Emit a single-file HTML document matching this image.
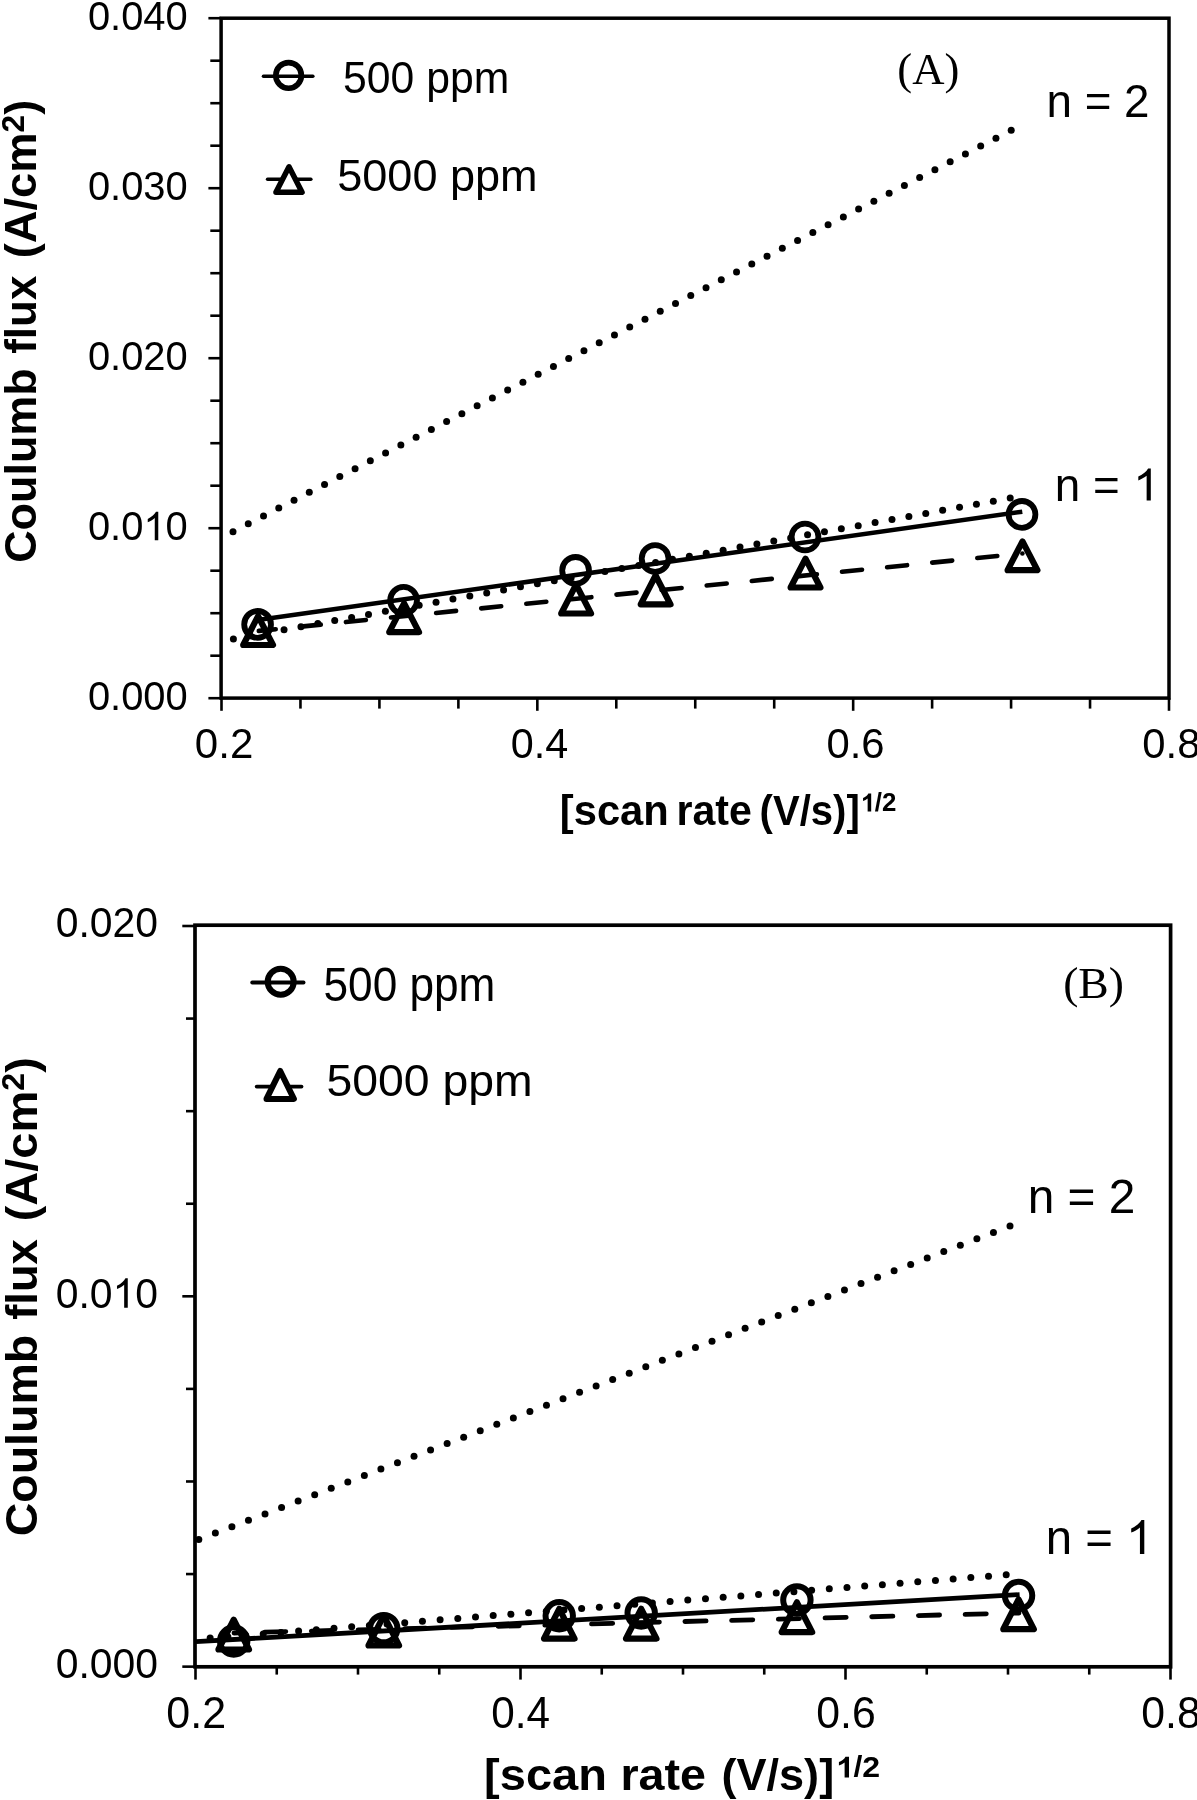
<!DOCTYPE html>
<html><head><meta charset="utf-8"><style>
html,body{margin:0;padding:0;background:#fff;}
svg{display:block;filter:grayscale(1);}
</style></head><body>
<svg width="1197" height="1800" viewBox="0 0 1197 1800">
<rect width="1197" height="1800" fill="#fff"/>
<line x1="208.40" y1="18.20" x2="221.10" y2="18.20" stroke="#000" stroke-width="2.6" stroke-linecap="butt" /><line x1="210.30" y1="60.70" x2="221.10" y2="60.70" stroke="#000" stroke-width="2.6" stroke-linecap="butt" /><line x1="210.30" y1="103.20" x2="221.10" y2="103.20" stroke="#000" stroke-width="2.6" stroke-linecap="butt" /><line x1="210.30" y1="145.70" x2="221.10" y2="145.70" stroke="#000" stroke-width="2.6" stroke-linecap="butt" /><line x1="208.40" y1="188.20" x2="221.10" y2="188.20" stroke="#000" stroke-width="2.6" stroke-linecap="butt" /><line x1="210.30" y1="230.70" x2="221.10" y2="230.70" stroke="#000" stroke-width="2.6" stroke-linecap="butt" /><line x1="210.30" y1="273.20" x2="221.10" y2="273.20" stroke="#000" stroke-width="2.6" stroke-linecap="butt" /><line x1="210.30" y1="315.70" x2="221.10" y2="315.70" stroke="#000" stroke-width="2.6" stroke-linecap="butt" /><line x1="208.40" y1="358.20" x2="221.10" y2="358.20" stroke="#000" stroke-width="2.6" stroke-linecap="butt" /><line x1="210.30" y1="400.70" x2="221.10" y2="400.70" stroke="#000" stroke-width="2.6" stroke-linecap="butt" /><line x1="210.30" y1="443.20" x2="221.10" y2="443.20" stroke="#000" stroke-width="2.6" stroke-linecap="butt" /><line x1="210.30" y1="485.70" x2="221.10" y2="485.70" stroke="#000" stroke-width="2.6" stroke-linecap="butt" /><line x1="208.40" y1="528.20" x2="221.10" y2="528.20" stroke="#000" stroke-width="2.6" stroke-linecap="butt" /><line x1="210.30" y1="570.70" x2="221.10" y2="570.70" stroke="#000" stroke-width="2.6" stroke-linecap="butt" /><line x1="210.30" y1="613.20" x2="221.10" y2="613.20" stroke="#000" stroke-width="2.6" stroke-linecap="butt" /><line x1="210.30" y1="655.70" x2="221.10" y2="655.70" stroke="#000" stroke-width="2.6" stroke-linecap="butt" /><line x1="208.40" y1="698.20" x2="221.10" y2="698.20" stroke="#000" stroke-width="2.6" stroke-linecap="butt" /><line x1="221.50" y1="698.10" x2="221.50" y2="710.80" stroke="#000" stroke-width="2.6" stroke-linecap="butt" /><line x1="300.46" y1="698.10" x2="300.46" y2="708.60" stroke="#000" stroke-width="2.6" stroke-linecap="butt" /><line x1="379.42" y1="698.10" x2="379.42" y2="708.60" stroke="#000" stroke-width="2.6" stroke-linecap="butt" /><line x1="458.38" y1="698.10" x2="458.38" y2="708.60" stroke="#000" stroke-width="2.6" stroke-linecap="butt" /><line x1="537.33" y1="698.10" x2="537.33" y2="710.80" stroke="#000" stroke-width="2.6" stroke-linecap="butt" /><line x1="616.29" y1="698.10" x2="616.29" y2="708.60" stroke="#000" stroke-width="2.6" stroke-linecap="butt" /><line x1="695.25" y1="698.10" x2="695.25" y2="708.60" stroke="#000" stroke-width="2.6" stroke-linecap="butt" /><line x1="774.21" y1="698.10" x2="774.21" y2="708.60" stroke="#000" stroke-width="2.6" stroke-linecap="butt" /><line x1="853.17" y1="698.10" x2="853.17" y2="710.80" stroke="#000" stroke-width="2.6" stroke-linecap="butt" /><line x1="932.12" y1="698.10" x2="932.12" y2="708.60" stroke="#000" stroke-width="2.6" stroke-linecap="butt" /><line x1="1011.08" y1="698.10" x2="1011.08" y2="708.60" stroke="#000" stroke-width="2.6" stroke-linecap="butt" /><line x1="1090.04" y1="698.10" x2="1090.04" y2="708.60" stroke="#000" stroke-width="2.6" stroke-linecap="butt" /><line x1="1169.00" y1="698.10" x2="1169.00" y2="710.80" stroke="#000" stroke-width="2.6" stroke-linecap="butt" /><rect x="221.1" y="18.2" width="947.9" height="679.9" fill="none" stroke="#000" stroke-width="3.5"/><text transform="translate(87.90,30.19) scale(0.9672,1)" font-family='"Liberation Sans", sans-serif' font-weight="normal" font-size="41.27" >0.040</text><text transform="translate(87.90,200.19) scale(0.9672,1)" font-family='"Liberation Sans", sans-serif' font-weight="normal" font-size="41.27" >0.030</text><text transform="translate(87.90,370.19) scale(0.9672,1)" font-family='"Liberation Sans", sans-serif' font-weight="normal" font-size="41.27" >0.020</text><g transform="translate(87.90,540.19) scale(0.9672,1)" font-family='"Liberation Sans", sans-serif' font-weight="normal" font-size="41.27"><text x="0.00" y="0">0.0</text><path transform="translate(57.38,0) scale(0.02015,-0.01928)" d="M763 0H583V1147Q518 1085 412.5 1023T223 930V1104Q374 1175 487 1276T647 1472H763Z"/><text x="80.33" y="0">0</text></g><text transform="translate(87.90,710.19) scale(0.9672,1)" font-family='"Liberation Sans", sans-serif' font-weight="normal" font-size="41.27" >0.000</text><text transform="translate(194.82,757.97) scale(0.9793,1)" font-family='"Liberation Sans", sans-serif' font-weight="normal" font-size="42.97" >0.2</text><text transform="translate(510.68,757.97) scale(0.9626,1)" font-family='"Liberation Sans", sans-serif' font-weight="normal" font-size="42.97" >0.4</text><text transform="translate(826.49,757.97) scale(0.9736,1)" font-family='"Liberation Sans", sans-serif' font-weight="normal" font-size="42.97" >0.6</text><text transform="translate(1142.33,757.97) scale(0.9736,1)" font-family='"Liberation Sans", sans-serif' font-weight="normal" font-size="42.97" >0.8</text><text transform="translate(36.40,562.80) rotate(-90) scale(1.0208,1)" font-family='"Liberation Sans", sans-serif' font-weight="bold" font-size="44.0">Coulumb</text><text transform="translate(36.40,353.77) rotate(-90) scale(0.9986,1)" font-family='"Liberation Sans", sans-serif' font-weight="bold" font-size="44.0">flux</text><text transform="translate(36.40,258.26) rotate(-90) scale(1.0293,1)" font-family='"Liberation Sans", sans-serif' font-weight="bold" font-size="44.0">(A/cm<tspan font-size="30.8" dy="-12.4">2</tspan><tspan dy="12.4">)</tspan></text><text transform="translate(559.81,825.20) scale(0.9887,1)" font-family='"Liberation Sans", sans-serif' font-weight="bold" font-size="42.2">[scan</text><text transform="translate(676.53,825.20) scale(0.9738,1)" font-family='"Liberation Sans", sans-serif' font-weight="bold" font-size="42.2">rate</text><text transform="translate(759.60,825.20) scale(0.9498,1)" font-family='"Liberation Sans", sans-serif' font-weight="bold" font-size="42.2">(V/s)]</text><g transform="translate(860.38,811.38) scale(0.9881,1)" font-family='"Liberation Sans", sans-serif' font-weight="bold" font-size="26.17"><path transform="translate(0.00,0) scale(0.01278,-0.01222)" d="M856 0H575V1059Q421 915 212 846V1101Q322 1137 451 1237.5T628 1472H856Z"/><text x="14.56" y="0">/2</text></g><line x1="263.45" y1="76.30" x2="312.85" y2="76.30" stroke="#000" stroke-width="3.5" stroke-linecap="round" /><circle cx="288.60" cy="75.40" r="12.80" fill="none" stroke="#000" stroke-width="5.6"/><text transform="translate(343.09,92.59) scale(0.9517,1)" font-family='"Liberation Sans", sans-serif' font-weight="normal" font-size="44.86" >500 ppm</text><line x1="267.55" y1="179.30" x2="310.85" y2="179.30" stroke="#000" stroke-width="3.5" stroke-linecap="round" /><path d="M289.00,166.75 L302.05,192.35 L275.95,192.35 Z" fill="#fff" stroke="#000" stroke-width="5.5" stroke-linejoin="round"/><text transform="translate(337.20,190.73) scale(1.0201,1)" font-family='"Liberation Sans", sans-serif' font-weight="normal" font-size="44.20" >5000 ppm</text><text transform="translate(897.29,83.67) scale(0.9965,1)" font-family='"Liberation Serif", serif' font-weight="normal" font-size="44.85" >(A)</text><text transform="translate(1046.51,117.00) scale(0.9976,1)" font-family='"Liberation Sans", sans-serif' font-weight="normal" font-size="45.88" >n = 2</text><text transform="translate(1054.81,500.60) scale(0.9855,1)" font-family='"Liberation Sans", sans-serif' font-weight="normal" font-size="46.51" >n =</text><path transform="translate(1133.14,500.60) scale(0.02315,-0.02174)" d="M763 0H583V1147Q518 1085 412.5 1023T223 930V1104Q374 1175 487 1276T647 1472H763Z"/><circle cx="233.00" cy="531.70" r="3.5"/><circle cx="248.26" cy="523.83" r="3.5"/><circle cx="263.52" cy="515.96" r="3.5"/><circle cx="278.78" cy="508.09" r="3.5"/><circle cx="294.04" cy="500.22" r="3.5"/><circle cx="309.29" cy="492.35" r="3.5"/><circle cx="324.55" cy="484.48" r="3.5"/><circle cx="339.81" cy="476.61" r="3.5"/><circle cx="355.07" cy="468.74" r="3.5"/><circle cx="370.33" cy="460.86" r="3.5"/><circle cx="385.59" cy="452.99" r="3.5"/><circle cx="400.85" cy="445.12" r="3.5"/><circle cx="416.11" cy="437.25" r="3.5"/><circle cx="431.36" cy="429.38" r="3.5"/><circle cx="446.62" cy="421.51" r="3.5"/><circle cx="461.88" cy="413.64" r="3.5"/><circle cx="477.14" cy="405.77" r="3.5"/><circle cx="492.40" cy="397.90" r="3.5"/><circle cx="507.66" cy="390.03" r="3.5"/><circle cx="522.92" cy="382.16" r="3.5"/><circle cx="538.18" cy="374.29" r="3.5"/><circle cx="553.44" cy="366.42" r="3.5"/><circle cx="568.69" cy="358.55" r="3.5"/><circle cx="583.95" cy="350.68" r="3.5"/><circle cx="599.21" cy="342.81" r="3.5"/><circle cx="614.47" cy="334.94" r="3.5"/><circle cx="629.73" cy="327.06" r="3.5"/><circle cx="644.99" cy="319.19" r="3.5"/><circle cx="660.25" cy="311.32" r="3.5"/><circle cx="675.51" cy="303.45" r="3.5"/><circle cx="690.76" cy="295.58" r="3.5"/><circle cx="706.02" cy="287.71" r="3.5"/><circle cx="721.28" cy="279.84" r="3.5"/><circle cx="736.54" cy="271.97" r="3.5"/><circle cx="751.80" cy="264.10" r="3.5"/><circle cx="767.06" cy="256.23" r="3.5"/><circle cx="782.32" cy="248.36" r="3.5"/><circle cx="797.58" cy="240.49" r="3.5"/><circle cx="812.84" cy="232.62" r="3.5"/><circle cx="828.09" cy="224.75" r="3.5"/><circle cx="843.35" cy="216.88" r="3.5"/><circle cx="858.61" cy="209.01" r="3.5"/><circle cx="873.87" cy="201.14" r="3.5"/><circle cx="889.13" cy="193.26" r="3.5"/><circle cx="904.39" cy="185.39" r="3.5"/><circle cx="919.65" cy="177.52" r="3.5"/><circle cx="934.91" cy="169.65" r="3.5"/><circle cx="950.16" cy="161.78" r="3.5"/><circle cx="965.42" cy="153.91" r="3.5"/><circle cx="980.68" cy="146.04" r="3.5"/><circle cx="995.94" cy="138.17" r="3.5"/><circle cx="1011.20" cy="130.30" r="3.5"/><circle cx="233.40" cy="638.90" r="3.5"/><circle cx="250.29" cy="635.84" r="3.5"/><circle cx="267.17" cy="632.78" r="3.5"/><circle cx="284.06" cy="629.72" r="3.5"/><circle cx="300.95" cy="626.66" r="3.5"/><circle cx="317.83" cy="623.60" r="3.5"/><circle cx="334.72" cy="620.53" r="3.5"/><circle cx="351.61" cy="617.47" r="3.5"/><circle cx="368.50" cy="614.41" r="3.5"/><circle cx="385.38" cy="611.35" r="3.5"/><circle cx="402.27" cy="608.29" r="3.5"/><circle cx="419.16" cy="605.23" r="3.5"/><circle cx="436.04" cy="602.17" r="3.5"/><circle cx="452.93" cy="599.11" r="3.5"/><circle cx="469.82" cy="596.05" r="3.5"/><circle cx="486.70" cy="592.99" r="3.5"/><circle cx="503.59" cy="589.93" r="3.5"/><circle cx="520.48" cy="586.87" r="3.5"/><circle cx="537.37" cy="583.80" r="3.5"/><circle cx="554.25" cy="580.74" r="3.5"/><circle cx="571.14" cy="577.68" r="3.5"/><circle cx="588.03" cy="574.62" r="3.5"/><circle cx="604.91" cy="571.56" r="3.5"/><circle cx="621.80" cy="568.50" r="3.5"/><circle cx="638.69" cy="565.44" r="3.5"/><circle cx="655.57" cy="562.38" r="3.5"/><circle cx="672.46" cy="559.32" r="3.5"/><circle cx="689.35" cy="556.26" r="3.5"/><circle cx="706.23" cy="553.20" r="3.5"/><circle cx="723.12" cy="550.13" r="3.5"/><circle cx="740.01" cy="547.07" r="3.5"/><circle cx="756.90" cy="544.01" r="3.5"/><circle cx="773.78" cy="540.95" r="3.5"/><circle cx="790.67" cy="537.89" r="3.5"/><circle cx="807.56" cy="534.83" r="3.5"/><circle cx="824.44" cy="531.77" r="3.5"/><circle cx="841.33" cy="528.71" r="3.5"/><circle cx="858.22" cy="525.65" r="3.5"/><circle cx="875.10" cy="522.59" r="3.5"/><circle cx="891.99" cy="519.53" r="3.5"/><circle cx="908.88" cy="516.47" r="3.5"/><circle cx="925.77" cy="513.40" r="3.5"/><circle cx="942.65" cy="510.34" r="3.5"/><circle cx="959.54" cy="507.28" r="3.5"/><circle cx="976.43" cy="504.22" r="3.5"/><circle cx="993.31" cy="501.16" r="3.5"/><circle cx="1010.20" cy="498.10" r="3.5"/><line x1="257.60" y1="620.10" x2="1022.30" y2="511.70" stroke="#000" stroke-width="4.5" stroke-linecap="butt" /><line x1="258.80" y1="630.90" x2="275.71" y2="629.19" stroke="#000" stroke-width="4.6" stroke-linecap="round" /><line x1="300.79" y1="626.64" x2="320.81" y2="624.61" stroke="#000" stroke-width="4.6" stroke-linecap="round" /><line x1="345.89" y1="622.07" x2="365.91" y2="620.04" stroke="#000" stroke-width="4.6" stroke-linecap="round" /><line x1="390.99" y1="617.50" x2="411.01" y2="615.47" stroke="#000" stroke-width="4.6" stroke-linecap="round" /><line x1="436.09" y1="612.93" x2="456.11" y2="610.89" stroke="#000" stroke-width="4.6" stroke-linecap="round" /><line x1="481.19" y1="608.35" x2="501.21" y2="606.32" stroke="#000" stroke-width="4.6" stroke-linecap="round" /><line x1="526.29" y1="603.78" x2="546.31" y2="601.75" stroke="#000" stroke-width="4.6" stroke-linecap="round" /><line x1="571.39" y1="599.21" x2="591.41" y2="597.18" stroke="#000" stroke-width="4.6" stroke-linecap="round" /><line x1="616.49" y1="594.63" x2="636.51" y2="592.60" stroke="#000" stroke-width="4.6" stroke-linecap="round" /><line x1="661.59" y1="590.06" x2="681.61" y2="588.03" stroke="#000" stroke-width="4.6" stroke-linecap="round" /><line x1="706.69" y1="585.49" x2="726.71" y2="583.46" stroke="#000" stroke-width="4.6" stroke-linecap="round" /><line x1="751.79" y1="580.92" x2="771.81" y2="578.89" stroke="#000" stroke-width="4.6" stroke-linecap="round" /><line x1="796.89" y1="576.34" x2="816.91" y2="574.31" stroke="#000" stroke-width="4.6" stroke-linecap="round" /><line x1="841.99" y1="571.77" x2="862.01" y2="569.74" stroke="#000" stroke-width="4.6" stroke-linecap="round" /><line x1="887.09" y1="567.20" x2="907.11" y2="565.17" stroke="#000" stroke-width="4.6" stroke-linecap="round" /><line x1="932.19" y1="562.63" x2="952.21" y2="560.60" stroke="#000" stroke-width="4.6" stroke-linecap="round" /><line x1="977.29" y1="558.05" x2="997.31" y2="556.02" stroke="#000" stroke-width="4.6" stroke-linecap="round" /><line x1="1022.39" y1="553.48" x2="1022.40" y2="553.48" stroke="#000" stroke-width="4.6" stroke-linecap="round" /><circle cx="257.60" cy="624.40" r="13.40" fill="none" stroke="#000" stroke-width="5.8"/><path d="M258.10,616.20 L273.00,645.00 L243.20,645.00 Z" fill="none" stroke="#000" stroke-width="6.2" stroke-linejoin="round"/><circle cx="403.60" cy="600.30" r="13.40" fill="none" stroke="#000" stroke-width="5.8"/><path d="M404.10,603.30 L419.00,632.10 L389.20,632.10 Z" fill="none" stroke="#000" stroke-width="6.2" stroke-linejoin="round"/><circle cx="575.60" cy="570.40" r="13.40" fill="none" stroke="#000" stroke-width="5.8"/><path d="M576.10,584.70 L591.00,613.50 L561.20,613.50 Z" fill="none" stroke="#000" stroke-width="6.2" stroke-linejoin="round"/><circle cx="655.10" cy="558.50" r="13.40" fill="none" stroke="#000" stroke-width="5.8"/><path d="M655.60,575.50 L670.50,604.30 L640.70,604.30 Z" fill="none" stroke="#000" stroke-width="6.2" stroke-linejoin="round"/><circle cx="805.00" cy="537.00" r="13.40" fill="none" stroke="#000" stroke-width="5.8"/><path d="M805.50,558.70 L820.40,587.50 L790.60,587.50 Z" fill="none" stroke="#000" stroke-width="6.2" stroke-linejoin="round"/><circle cx="1022.00" cy="514.40" r="13.40" fill="none" stroke="#000" stroke-width="5.8"/><path d="M1022.50,541.40 L1037.40,570.20 L1007.60,570.20 Z" fill="none" stroke="#000" stroke-width="6.2" stroke-linejoin="round"/>
<line x1="182.30" y1="926.00" x2="195.00" y2="926.00" stroke="#000" stroke-width="2.6" stroke-linecap="butt" /><line x1="186.00" y1="1018.58" x2="195.00" y2="1018.58" stroke="#000" stroke-width="2.6" stroke-linecap="butt" /><line x1="186.00" y1="1111.16" x2="195.00" y2="1111.16" stroke="#000" stroke-width="2.6" stroke-linecap="butt" /><line x1="186.00" y1="1203.74" x2="195.00" y2="1203.74" stroke="#000" stroke-width="2.6" stroke-linecap="butt" /><line x1="182.30" y1="1296.32" x2="195.00" y2="1296.32" stroke="#000" stroke-width="2.6" stroke-linecap="butt" /><line x1="186.00" y1="1388.90" x2="195.00" y2="1388.90" stroke="#000" stroke-width="2.6" stroke-linecap="butt" /><line x1="186.00" y1="1481.48" x2="195.00" y2="1481.48" stroke="#000" stroke-width="2.6" stroke-linecap="butt" /><line x1="186.00" y1="1574.06" x2="195.00" y2="1574.06" stroke="#000" stroke-width="2.6" stroke-linecap="butt" /><line x1="182.30" y1="1666.64" x2="195.00" y2="1666.64" stroke="#000" stroke-width="2.6" stroke-linecap="butt" /><line x1="195.50" y1="1666.80" x2="195.50" y2="1679.60" stroke="#000" stroke-width="2.6" stroke-linecap="butt" /><line x1="276.75" y1="1666.80" x2="276.75" y2="1674.60" stroke="#000" stroke-width="2.6" stroke-linecap="butt" /><line x1="358.00" y1="1666.80" x2="358.00" y2="1674.60" stroke="#000" stroke-width="2.6" stroke-linecap="butt" /><line x1="439.25" y1="1666.80" x2="439.25" y2="1674.60" stroke="#000" stroke-width="2.6" stroke-linecap="butt" /><line x1="520.50" y1="1666.80" x2="520.50" y2="1679.60" stroke="#000" stroke-width="2.6" stroke-linecap="butt" /><line x1="601.75" y1="1666.80" x2="601.75" y2="1674.60" stroke="#000" stroke-width="2.6" stroke-linecap="butt" /><line x1="683.00" y1="1666.80" x2="683.00" y2="1674.60" stroke="#000" stroke-width="2.6" stroke-linecap="butt" /><line x1="764.25" y1="1666.80" x2="764.25" y2="1674.60" stroke="#000" stroke-width="2.6" stroke-linecap="butt" /><line x1="845.50" y1="1666.80" x2="845.50" y2="1679.60" stroke="#000" stroke-width="2.6" stroke-linecap="butt" /><line x1="926.75" y1="1666.80" x2="926.75" y2="1674.60" stroke="#000" stroke-width="2.6" stroke-linecap="butt" /><line x1="1008.00" y1="1666.80" x2="1008.00" y2="1674.60" stroke="#000" stroke-width="2.6" stroke-linecap="butt" /><line x1="1089.25" y1="1666.80" x2="1089.25" y2="1674.60" stroke="#000" stroke-width="2.6" stroke-linecap="butt" /><line x1="1170.50" y1="1666.80" x2="1170.50" y2="1679.60" stroke="#000" stroke-width="2.6" stroke-linecap="butt" /><rect x="195.0" y="925.2" width="975.5999999999999" height="741.5999999999999" fill="none" stroke="#000" stroke-width="3.7"/><text transform="translate(55.66,937.47) scale(0.9520,1)" font-family='"Liberation Sans", sans-serif' font-weight="normal" font-size="42.97" >0.020</text><g transform="translate(55.66,1307.79) scale(0.9520,1)" font-family='"Liberation Sans", sans-serif' font-weight="normal" font-size="42.97"><text x="0.00" y="0">0.0</text><path transform="translate(59.73,0) scale(0.02098,-0.02007)" d="M763 0H583V1147Q518 1085 412.5 1023T223 930V1104Q374 1175 487 1276T647 1472H763Z"/><text x="83.63" y="0">0</text></g><text transform="translate(55.66,1678.11) scale(0.9520,1)" font-family='"Liberation Sans", sans-serif' font-weight="normal" font-size="42.97" >0.000</text><text transform="translate(166.28,1728.46) scale(0.9689,1)" font-family='"Liberation Sans", sans-serif' font-weight="normal" font-size="44.38" >0.2</text><text transform="translate(491.31,1728.46) scale(0.9524,1)" font-family='"Liberation Sans", sans-serif' font-weight="normal" font-size="44.38" >0.4</text><text transform="translate(816.29,1728.46) scale(0.9633,1)" font-family='"Liberation Sans", sans-serif' font-weight="normal" font-size="44.38" >0.6</text><text transform="translate(1141.29,1728.46) scale(0.9633,1)" font-family='"Liberation Sans", sans-serif' font-weight="normal" font-size="44.38" >0.8</text><text transform="translate(37.20,1536.36) rotate(-90) scale(1.0347,1)" font-family='"Liberation Sans", sans-serif' font-weight="bold" font-size="45.0">Coulumb</text><text transform="translate(37.20,1319.79) rotate(-90) scale(1.0081,1)" font-family='"Liberation Sans", sans-serif' font-weight="bold" font-size="45.0">flux</text><text transform="translate(37.20,1221.35) rotate(-90) scale(1.0451,1)" font-family='"Liberation Sans", sans-serif' font-weight="bold" font-size="45.0">(A/cm<tspan font-size="30.8" dy="-13.2">2</tspan><tspan dy="13.2">)</tspan></text><text transform="translate(484.11,1789.69) scale(1.0587,1)" font-family='"Liberation Sans", sans-serif' font-weight="bold" font-size="44.4">[scan</text><text transform="translate(620.47,1789.69) scale(1.0502,1)" font-family='"Liberation Sans", sans-serif' font-weight="bold" font-size="44.4">rate</text><text transform="translate(721.45,1789.69) scale(1.0156,1)" font-family='"Liberation Sans", sans-serif' font-weight="bold" font-size="44.4">(V/s)]</text><g transform="translate(835.60,1777.40) scale(1.0717,1)" font-family='"Liberation Sans", sans-serif' font-weight="bold" font-size="29.93"><path transform="translate(0.00,0) scale(0.01462,-0.01398)" d="M856 0H575V1059Q421 915 212 846V1101Q322 1137 451 1237.5T628 1472H856Z"/><text x="16.65" y="0">/2</text></g><line x1="252.20" y1="982.50" x2="303.60" y2="982.50" stroke="#000" stroke-width="3.8" stroke-linecap="round" /><circle cx="280.70" cy="981.80" r="13.00" fill="none" stroke="#000" stroke-width="6.0"/><text transform="translate(323.53,1001.49) scale(0.9341,1)" font-family='"Liberation Sans", sans-serif' font-weight="normal" font-size="47.29" >500 ppm</text><line x1="256.70" y1="1086.60" x2="301.50" y2="1086.60" stroke="#000" stroke-width="3.8" stroke-linecap="round" /><path d="M280.20,1071.00 L293.90,1098.90 L266.50,1098.90 Z" fill="#fff" stroke="#000" stroke-width="6.0" stroke-linejoin="round"/><text transform="translate(326.45,1096.30) scale(1.0232,1)" font-family='"Liberation Sans", sans-serif' font-weight="normal" font-size="45.30" >5000 ppm</text><text transform="translate(1063.15,998.41) scale(1.0325,1)" font-family='"Liberation Serif", serif' font-weight="normal" font-size="44.19" >(B)</text><text transform="translate(1027.67,1213.10) scale(1.0079,1)" font-family='"Liberation Sans", sans-serif' font-weight="normal" font-size="47.46" >n = 2</text><text transform="translate(1045.80,1554.10) scale(0.9946,1)" font-family='"Liberation Sans", sans-serif' font-weight="normal" font-size="47.63" >n =</text><path transform="translate(1125.79,1554.10) scale(0.02426,-0.02317)" d="M763 0H583V1147Q518 1085 412.5 1023T223 930V1104Q374 1175 487 1276T647 1472H763Z"/><circle cx="198.80" cy="1539.50" r="3.5"/><circle cx="215.36" cy="1533.10" r="3.5"/><circle cx="231.91" cy="1526.70" r="3.5"/><circle cx="248.47" cy="1520.31" r="3.5"/><circle cx="265.02" cy="1513.91" r="3.5"/><circle cx="281.58" cy="1507.51" r="3.5"/><circle cx="298.13" cy="1501.11" r="3.5"/><circle cx="314.69" cy="1494.71" r="3.5"/><circle cx="331.24" cy="1488.32" r="3.5"/><circle cx="347.80" cy="1481.92" r="3.5"/><circle cx="364.35" cy="1475.52" r="3.5"/><circle cx="380.91" cy="1469.12" r="3.5"/><circle cx="397.46" cy="1462.72" r="3.5"/><circle cx="414.02" cy="1456.33" r="3.5"/><circle cx="430.57" cy="1449.93" r="3.5"/><circle cx="447.13" cy="1443.53" r="3.5"/><circle cx="463.68" cy="1437.13" r="3.5"/><circle cx="480.24" cy="1430.73" r="3.5"/><circle cx="496.79" cy="1424.34" r="3.5"/><circle cx="513.35" cy="1417.94" r="3.5"/><circle cx="529.90" cy="1411.54" r="3.5"/><circle cx="546.46" cy="1405.14" r="3.5"/><circle cx="563.01" cy="1398.74" r="3.5"/><circle cx="579.57" cy="1392.35" r="3.5"/><circle cx="596.12" cy="1385.95" r="3.5"/><circle cx="612.68" cy="1379.55" r="3.5"/><circle cx="629.23" cy="1373.15" r="3.5"/><circle cx="645.79" cy="1366.76" r="3.5"/><circle cx="662.34" cy="1360.36" r="3.5"/><circle cx="678.90" cy="1353.96" r="3.5"/><circle cx="695.45" cy="1347.56" r="3.5"/><circle cx="712.01" cy="1341.16" r="3.5"/><circle cx="728.56" cy="1334.77" r="3.5"/><circle cx="745.12" cy="1328.37" r="3.5"/><circle cx="761.67" cy="1321.97" r="3.5"/><circle cx="778.23" cy="1315.57" r="3.5"/><circle cx="794.78" cy="1309.17" r="3.5"/><circle cx="811.34" cy="1302.78" r="3.5"/><circle cx="827.89" cy="1296.38" r="3.5"/><circle cx="844.45" cy="1289.98" r="3.5"/><circle cx="861.00" cy="1283.58" r="3.5"/><circle cx="877.56" cy="1277.18" r="3.5"/><circle cx="894.11" cy="1270.79" r="3.5"/><circle cx="910.67" cy="1264.39" r="3.5"/><circle cx="927.22" cy="1257.99" r="3.5"/><circle cx="943.78" cy="1251.59" r="3.5"/><circle cx="960.33" cy="1245.19" r="3.5"/><circle cx="976.89" cy="1238.80" r="3.5"/><circle cx="993.44" cy="1232.40" r="3.5"/><circle cx="1010.00" cy="1226.00" r="3.5"/><circle cx="210.15" cy="1638.10" r="3.5"/><circle cx="227.84" cy="1636.69" r="3.5"/><circle cx="245.53" cy="1635.29" r="3.5"/><circle cx="263.22" cy="1633.88" r="3.5"/><circle cx="280.91" cy="1632.47" r="3.5"/><circle cx="298.60" cy="1631.07" r="3.5"/><circle cx="316.29" cy="1629.66" r="3.5"/><circle cx="333.98" cy="1628.25" r="3.5"/><circle cx="351.67" cy="1626.85" r="3.5"/><circle cx="369.36" cy="1625.44" r="3.5"/><circle cx="387.05" cy="1624.03" r="3.5"/><circle cx="404.74" cy="1622.63" r="3.5"/><circle cx="422.43" cy="1621.22" r="3.5"/><circle cx="440.12" cy="1619.81" r="3.5"/><circle cx="457.81" cy="1618.41" r="3.5"/><circle cx="475.50" cy="1617.00" r="3.5"/><circle cx="493.19" cy="1615.59" r="3.5"/><circle cx="510.88" cy="1614.19" r="3.5"/><circle cx="528.57" cy="1612.78" r="3.5"/><circle cx="546.26" cy="1611.37" r="3.5"/><circle cx="563.95" cy="1609.97" r="3.5"/><circle cx="581.64" cy="1608.56" r="3.5"/><circle cx="599.33" cy="1607.15" r="3.5"/><circle cx="617.02" cy="1605.75" r="3.5"/><circle cx="634.71" cy="1604.34" r="3.5"/><circle cx="652.40" cy="1602.93" r="3.5"/><circle cx="670.09" cy="1601.53" r="3.5"/><circle cx="687.78" cy="1600.12" r="3.5"/><circle cx="705.47" cy="1598.71" r="3.5"/><circle cx="723.16" cy="1597.31" r="3.5"/><circle cx="740.85" cy="1595.90" r="3.5"/><circle cx="758.54" cy="1594.49" r="3.5"/><circle cx="776.23" cy="1593.09" r="3.5"/><circle cx="793.92" cy="1591.68" r="3.5"/><circle cx="811.61" cy="1590.27" r="3.5"/><circle cx="829.30" cy="1588.87" r="3.5"/><circle cx="846.99" cy="1587.46" r="3.5"/><circle cx="864.68" cy="1586.05" r="3.5"/><circle cx="882.37" cy="1584.65" r="3.5"/><circle cx="900.06" cy="1583.24" r="3.5"/><circle cx="917.75" cy="1581.83" r="3.5"/><circle cx="935.44" cy="1580.43" r="3.5"/><circle cx="953.13" cy="1579.02" r="3.5"/><circle cx="970.82" cy="1577.61" r="3.5"/><circle cx="988.51" cy="1576.21" r="3.5"/><circle cx="1006.20" cy="1574.80" r="3.5"/><line x1="196.00" y1="1641.70" x2="1019.60" y2="1594.60" stroke="#000" stroke-width="4.8" stroke-linecap="butt" /><line x1="234.00" y1="1633.00" x2="239.10" y2="1632.87" stroke="#000" stroke-width="4.8" stroke-linecap="round" /><line x1="264.60" y1="1632.22" x2="285.80" y2="1631.68" stroke="#000" stroke-width="4.8" stroke-linecap="round" /><line x1="311.30" y1="1631.03" x2="332.50" y2="1630.49" stroke="#000" stroke-width="4.8" stroke-linecap="round" /><line x1="358.00" y1="1629.84" x2="379.20" y2="1629.30" stroke="#000" stroke-width="4.8" stroke-linecap="round" /><line x1="404.70" y1="1628.65" x2="425.90" y2="1628.11" stroke="#000" stroke-width="4.8" stroke-linecap="round" /><line x1="451.40" y1="1627.46" x2="472.60" y2="1626.92" stroke="#000" stroke-width="4.8" stroke-linecap="round" /><line x1="498.10" y1="1626.27" x2="519.30" y2="1625.73" stroke="#000" stroke-width="4.8" stroke-linecap="round" /><line x1="544.80" y1="1625.08" x2="566.00" y2="1624.54" stroke="#000" stroke-width="4.8" stroke-linecap="round" /><line x1="591.50" y1="1623.89" x2="612.70" y2="1623.35" stroke="#000" stroke-width="4.8" stroke-linecap="round" /><line x1="638.20" y1="1622.70" x2="659.40" y2="1622.16" stroke="#000" stroke-width="4.8" stroke-linecap="round" /><line x1="684.90" y1="1621.51" x2="706.10" y2="1620.97" stroke="#000" stroke-width="4.8" stroke-linecap="round" /><line x1="731.60" y1="1620.32" x2="752.80" y2="1619.78" stroke="#000" stroke-width="4.8" stroke-linecap="round" /><line x1="778.30" y1="1619.13" x2="799.50" y2="1618.59" stroke="#000" stroke-width="4.8" stroke-linecap="round" /><line x1="825.00" y1="1617.94" x2="846.20" y2="1617.40" stroke="#000" stroke-width="4.8" stroke-linecap="round" /><line x1="871.70" y1="1616.75" x2="892.90" y2="1616.21" stroke="#000" stroke-width="4.8" stroke-linecap="round" /><line x1="918.40" y1="1615.56" x2="939.60" y2="1615.02" stroke="#000" stroke-width="4.8" stroke-linecap="round" /><line x1="965.10" y1="1614.37" x2="986.30" y2="1613.83" stroke="#000" stroke-width="4.8" stroke-linecap="round" /><line x1="1011.80" y1="1613.18" x2="1019.00" y2="1613.00" stroke="#000" stroke-width="4.8" stroke-linecap="round" /><circle cx="233.70" cy="1641.00" r="13.70" fill="none" stroke="#000" stroke-width="6.0"/><path d="M233.70,1619.70 L248.95,1649.50 L218.45,1649.50 Z" fill="none" stroke="#000" stroke-width="6.2" stroke-linejoin="round"/><circle cx="383.75" cy="1628.60" r="13.70" fill="none" stroke="#000" stroke-width="6.0"/><path d="M383.75,1615.60 L399.00,1645.40 L368.50,1645.40 Z" fill="none" stroke="#000" stroke-width="6.2" stroke-linejoin="round"/><circle cx="559.25" cy="1615.80" r="13.70" fill="none" stroke="#000" stroke-width="6.0"/><path d="M559.25,1608.80 L574.50,1638.60 L544.00,1638.60 Z" fill="none" stroke="#000" stroke-width="6.2" stroke-linejoin="round"/><circle cx="641.20" cy="1613.00" r="13.70" fill="none" stroke="#000" stroke-width="6.0"/><path d="M641.20,1608.80 L656.45,1638.60 L625.95,1638.60 Z" fill="none" stroke="#000" stroke-width="6.2" stroke-linejoin="round"/><circle cx="796.90" cy="1600.00" r="13.70" fill="none" stroke="#000" stroke-width="6.0"/><path d="M796.90,1602.30 L812.15,1632.10 L781.65,1632.10 Z" fill="none" stroke="#000" stroke-width="6.2" stroke-linejoin="round"/><circle cx="1018.55" cy="1595.50" r="13.70" fill="none" stroke="#000" stroke-width="6.0"/><path d="M1018.55,1599.40 L1033.80,1629.20 L1003.30,1629.20 Z" fill="none" stroke="#000" stroke-width="6.2" stroke-linejoin="round"/>
</svg>
</body></html>
